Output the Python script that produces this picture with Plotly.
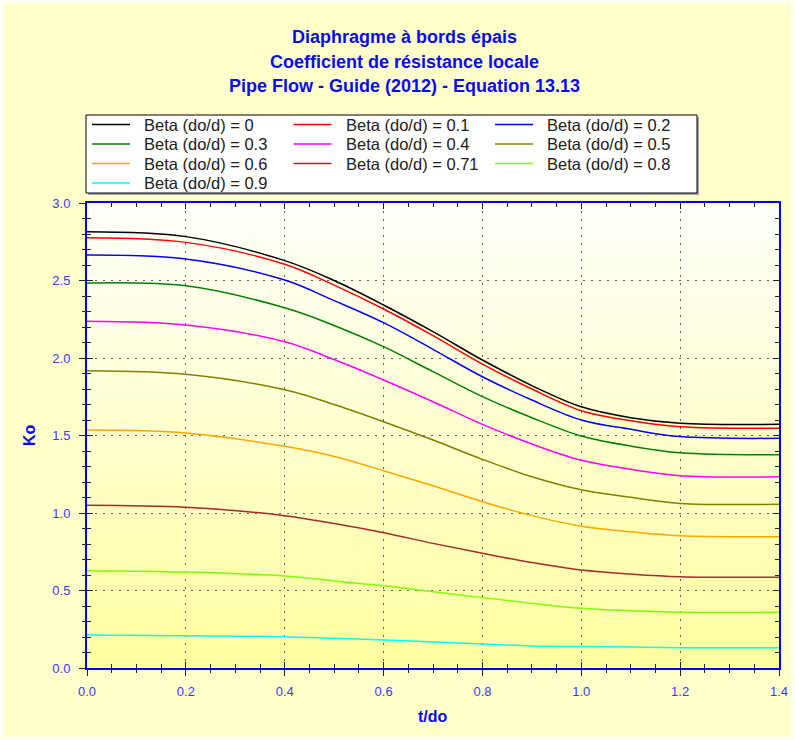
import plotly.graph_objects as go

# ---------------- data ----------------
t_do = [0.0, 0.2, 0.4, 0.5, 0.6, 0.7, 0.8, 0.9, 1.0, 1.1, 1.2, 1.4]

beta_labels = ["0", "0.1", "0.2", "0.3", "0.4", "0.5", "0.6", "0.71", "0.8", "0.9"]

ko_b00 = [2.815, 2.783, 2.628, 2.500, 2.342, 2.170, 1.987, 1.822, 1.685, 1.615, 1.579, 1.572]
ko_b01 = [2.776, 2.746, 2.605, 2.470, 2.316, 2.144, 1.961, 1.800, 1.660, 1.595, 1.557, 1.547]
ko_b02 = [2.665, 2.639, 2.503, 2.370, 2.228, 2.056, 1.879, 1.729, 1.600, 1.540, 1.493, 1.482]
ko_b03 = [2.484, 2.466, 2.324, 2.210, 2.073, 1.912, 1.751, 1.615, 1.497, 1.432, 1.389, 1.376]
ko_b04 = [2.237, 2.213, 2.105, 1.990, 1.858, 1.718, 1.572, 1.445, 1.340, 1.282, 1.241, 1.234]
ko_b05 = [1.918, 1.895, 1.795, 1.700, 1.589, 1.471, 1.346, 1.234, 1.150, 1.101, 1.062, 1.056]
ko_b06 = [1.535, 1.516, 1.430, 1.365, 1.273, 1.176, 1.073, 0.983, 0.915, 0.879, 0.853, 0.847]
ko_b071 = [1.050, 1.037, 0.983, 0.932, 0.873, 0.804, 0.740, 0.680, 0.632, 0.606, 0.589, 0.585]
ko_b08 = [0.628, 0.619, 0.594, 0.562, 0.531, 0.492, 0.454, 0.417, 0.385, 0.370, 0.359, 0.359]
ko_b09 = [0.213, 0.208, 0.202, 0.192, 0.181, 0.168, 0.155, 0.142, 0.138, 0.135, 0.131, 0.131]

series = [ko_b00, ko_b01, ko_b02, ko_b03, ko_b04, ko_b05, ko_b06, ko_b071, ko_b08, ko_b09]

x_ticks = [0.0, 0.2, 0.4, 0.6, 0.8, 1.0, 1.2, 1.4]
y_ticks = [0.0, 0.5, 1.0, 1.5, 2.0, 2.5, 3.0]

title_lines = ["Diaphragme à bords épais",
               "Coefficient de résistance locale",
               "Pipe Flow - Guide (2012) - Equation 13.13"]

# ---------------- styles ----------------
colors = ["#000000", "#FF0000", "#0000FF", "#008000", "#FF00FF",
          "#808000", "#FFA500", "#A52A2A", "#7FFF00", "#00FFFF"]
FONT = "Arial, Liberation Sans, sans-serif"
TITLE_BLUE = "#0A0AEE"
TICK_BLUE = "#3A3AF0"
AXIS_BLUE = "#0000FF"

W, H = 795, 740
PL, PR, PT, PB = 87, 779, 203, 668


def px_x(px):
    return (px - PL) / (PR - PL)


def px_y(py):
    return (PB - py) / (PB - PT)


fig = go.Figure()

for name, vals, col in zip(beta_labels, series, colors):
    fig.add_trace(go.Scatter(
        x=t_do, y=vals, mode="lines", name=f"Beta (do/d) = {name}",
        line=dict(color=col, width=1.5, shape="spline", smoothing=1.0),
        showlegend=False, xaxis="x", yaxis="y"))

shapes = []
# outer frame background
shapes.append(dict(type="rect", xref="paper", yref="paper",
                   x0=px_x(4), x1=px_x(791), y0=px_y(3), y1=px_y(737),
                   fillcolor="#FFFFCC", line=dict(width=0), layer="below"))
# plot area vertical gradient
n = 60
top = (255, 255, 252)
bot = (255, 255, 160)
for i in range(n):
    f = (i + 0.5) / n
    c = tuple(int(round(top[k] + (bot[k] - top[k]) * f)) for k in range(3))
    shapes.append(dict(type="rect", xref="x domain", yref="y domain",
                       x0=0, x1=1, y0=1 - (i + 1) / n, y1=1 - i / n + 0.002,
                       fillcolor="rgb(%d,%d,%d)" % c, line=dict(width=0),
                       layer="below"))

annotations = []
# titles
for i, line in enumerate(title_lines):
    annotations.append(dict(text=f"<b>{line}</b>", xref="paper", yref="paper",
                            x=px_x(404), y=px_y(37 + 24.5 * i),
                            xanchor="center", yanchor="middle", showarrow=False,
                            font=dict(family=FONT, size=18, color=TITLE_BLUE)))
# axis titles
annotations.append(dict(text="<b>t/do</b>", xref="paper", yref="paper",
                        x=px_x(433), y=px_y(716), xanchor="center", yanchor="middle",
                        showarrow=False, font=dict(family=FONT, size=16, color=TITLE_BLUE)))
annotations.append(dict(text="<b>Ko</b>", xref="paper", yref="paper",
                        x=px_x(29), y=px_y(435), xanchor="center", yanchor="middle",
                        textangle=-90, showarrow=False,
                        font=dict(family=FONT, size=16, color=TITLE_BLUE)))

# legend box (drawn manually to match the original layout)
shapes.append(dict(type="rect", xref="paper", yref="paper",
                   x0=px_x(88), x1=px_x(699), y0=px_y(195), y1=px_y(117),
                   fillcolor="#A0A0A0", line=dict(width=0)))
shapes.append(dict(type="rect", xref="paper", yref="paper",
                   x0=px_x(86), x1=px_x(697), y0=px_y(193), y1=px_y(115),
                   fillcolor="#FFFFFF", line=dict(color="#000000", width=1)))
for i, (name, col) in enumerate(zip(beta_labels, colors)):
    r, c = divmod(i, 3)
    yy = px_y(124.5 + 19.5 * r)
    shapes.append(dict(type="line", xref="paper", yref="paper",
                       x0=px_x(92 + 201.5 * c), x1=px_x(130 + 201.5 * c), y0=yy, y1=yy,
                       line=dict(color=col, width=1.5)))
    annotations.append(dict(text=f"Beta (do/d) = {name}", xref="paper", yref="paper",
                            x=px_x(142 + 201.5 * c), y=yy, xanchor="left", yanchor="middle",
                            showarrow=False,
                            font=dict(family=FONT, size=16.5, color="#202020")))

axis_common = dict(showline=True, linecolor=AXIS_BLUE, linewidth=2,
                   zeroline=False, tickcolor="#202020", tickwidth=1, automargin=False)

fig.update_layout(
    width=W, height=H, autosize=False,
    margin=dict(l=PL, r=W - PR, t=PT, b=H - PB, pad=0, autoexpand=False),
    paper_bgcolor="#FFFFF2",
    plot_bgcolor="rgb(255,255,252)",
    showlegend=False,
    shapes=shapes,
    annotations=annotations,
    xaxis=dict(range=[0, 1.4], tickvals=x_ticks, ticktext=[f"{v:.1f}" for v in x_ticks],
               ticks="outside", ticklen=6, mirror=True,
               minor=dict(dtick=0.05, tick0=0, ticks="outside", ticklen=3,
                          tickcolor="#202020", showgrid=False),
               showgrid=True, gridcolor="#606060", gridwidth=1, griddash="2px,6px",
               tickfont=dict(family=FONT, size=13, color=TICK_BLUE),
               ticklabelstandoff=4, **axis_common),
    yaxis=dict(range=[0, 3.0], tickvals=y_ticks, ticktext=[f"{v:.1f}" for v in y_ticks],
               ticks="outside", ticklen=6, mirror=True,
               minor=dict(dtick=0.1, tick0=0, ticks="outside", ticklen=3,
                          tickcolor="#202020", showgrid=False),
               showgrid=True, gridcolor="#606060", gridwidth=1, griddash="2px,6px",
               tickfont=dict(family=FONT, size=13, color=TICK_BLUE),
               ticklabelstandoff=6, **axis_common),
    xaxis2=dict(range=[0, 1.4], overlaying="x", anchor="y", side="bottom",
                tickvals=x_ticks, showticklabels=False, ticks="inside", ticklen=6,
                mirror="ticks", showgrid=False,
                minor=dict(dtick=0.05, tick0=0, ticks="inside", ticklen=4,
                           tickcolor="#202020", showgrid=False),
                **axis_common),
    yaxis2=dict(range=[0, 3.0], overlaying="y", anchor="x", side="left",
                tickvals=y_ticks, showticklabels=False, ticks="inside", ticklen=6,
                mirror="ticks", showgrid=False,
                minor=dict(dtick=0.1, tick0=0, ticks="inside", ticklen=4,
                           tickcolor="#202020", showgrid=False),
                **axis_common),
)

# invisible helper trace so the overlay axes are drawn
fig.add_trace(go.Scatter(x=[None], y=[None], xaxis="x2", yaxis="y2",
                         showlegend=False, hoverinfo="skip"))

fig.write_html("out.html")
